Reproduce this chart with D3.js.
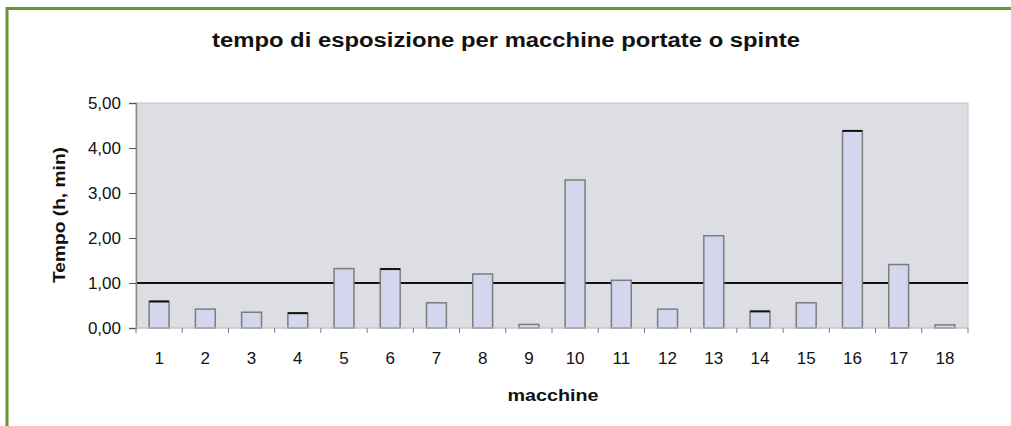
<!DOCTYPE html>
<html lang="it">
<head>
<meta charset="UTF-8">
<title>tempo di esposizione</title>
<script src="https://d3js.org/d3.v7.min.js"></script>
<style>
    body{ margin:0; background:#fff; }
    text{ font-family:"Liberation Sans", Arial, sans-serif; fill:#111; }
</style>
</head>
<body>
<svg id="chart" width="1011" height="426"></svg>
<script>
    // data
    let macchine = ["1","2","3","4","5","6","7","8","9","10","11","12","13","14","15","16","17","18"];
    let tempo = [0.59, 0.42, 0.35, 0.33, 1.32, 1.31, 0.56, 1.20, 0.08, 3.29, 1.06, 0.42, 2.05, 0.37, 0.56, 4.38, 1.41, 0.07];
    let yTicks = [0, 1, 2, 3, 4, 5];
    let soglia = 1.0;

    let svg = d3.select("#chart");

    // frame (green, top + left only)
    svg.append("path")
        .attr("d", "M7,426 V8.5 H1011")
        .attr("fill", "none")
        .attr("stroke", "#6b9433")
        .attr("stroke-width", 3);

    let pLeft = 136, pRight = 968, pTop = 103, pBottom = 328;

    let x = d3.scaleBand().domain(macchine).range([pLeft, pRight]).paddingInner(0.57).paddingOuter(0.285);
    let xb = d3.scaleBand().domain(macchine).range([pLeft, pRight]);
    let y = d3.scaleLinear().domain([0, 5]).range([pBottom, pTop]);

    // plot area
    svg.append("rect")
        .attr("x", pLeft).attr("y", pTop)
        .attr("width", pRight - pLeft).attr("height", pBottom - pTop)
        .attr("fill", "#dcdee3")
        .attr("stroke", "#c4c4c4")
        .attr("stroke-width", 1);

    // reference line at 1,00
    svg.append("line")
        .attr("x1", pLeft).attr("x2", pRight)
        .attr("y1", y(soglia)).attr("y2", y(soglia))
        .attr("stroke", "#111").attr("stroke-width", 2);

    // bars
    let darkTop = new Set([0, 3, 5, 13, 15]);
    let bars = svg.append("g");
    bars.selectAll("rect")
        .data(tempo)
        .join("rect")
        .attr("x", (d, i) => x(macchine[i]))
        .attr("y", d => y(d))
        .attr("width", x.bandwidth())
        .attr("height", d => y(0) - y(d))
        .attr("fill", "#d3d6ec")
        .attr("stroke", "#7d7d7d")
        .attr("stroke-width", 1.5);
    bars.selectAll("line")
        .data(tempo.map((d, i) => [d, i]).filter(p => darkTop.has(p[1])))
        .join("line")
        .attr("x1", p => x(macchine[p[1]]))
        .attr("x2", p => x(macchine[p[1]]) + x.bandwidth())
        .attr("y1", p => y(p[0])).attr("y2", p => y(p[0]))
        .attr("stroke", "#111").attr("stroke-width", 2);

    // y axis
    let yAxis = d3.axisLeft(y).tickValues(yTicks).tickSize(7).tickPadding(8)
        .tickFormat(d => d3.format(".2f")(d).replace(".", ","));
    let gy = svg.append("g").attr("transform", `translate(${pLeft},0)`).call(yAxis);
    gy.select(".domain").attr("stroke", "#8a8a8a").attr("stroke-width", 1.5);
    gy.selectAll(".tick line").attr("stroke", "#555");
    gy.selectAll("text").attr("font-size", 17).attr("fill", "#111")
        .style("font-family", "Liberation Sans, Arial, sans-serif");

    // x axis: ticks on band boundaries
    let gx = svg.append("g");
    gx.append("line")
        .attr("x1", pLeft).attr("x2", pRight)
        .attr("y1", pBottom).attr("y2", pBottom)
        .attr("stroke", "#c4c4c4");
    gx.selectAll("line.t")
        .data(macchine.concat(["end"]))
        .join("line")
        .attr("class", "t")
        .attr("x1", (d, i) => i < macchine.length ? xb(d) : pRight)
        .attr("x2", (d, i) => i < macchine.length ? xb(d) : pRight)
        .attr("y1", pBottom).attr("y2", pBottom + 5)
        .attr("stroke", "#777");
    gx.selectAll("text")
        .data(macchine)
        .join("text")
        .attr("x", d => xb(d) + xb.bandwidth() / 2)
        .attr("y", 364)
        .attr("text-anchor", "middle")
        .attr("font-size", 17)
        .text(d => d);

    // titles
    svg.append("text")
        .attr("x", 506).attr("y", 47)
        .attr("text-anchor", "middle")
        .attr("font-size", 20).attr("font-weight", "bold")
        .attr("textLength", 588).attr("lengthAdjust", "spacingAndGlyphs")
        .text("tempo di esposizione per macchine portate o spinte");

    svg.append("text")
        .attr("x", 553).attr("y", 401)
        .attr("text-anchor", "middle")
        .attr("font-size", 17).attr("font-weight", "bold")
        .attr("textLength", 91).attr("lengthAdjust", "spacingAndGlyphs")
        .text("macchine");

    svg.append("text")
        .attr("transform", "translate(65,215) rotate(-90)")
        .attr("text-anchor", "middle")
        .attr("font-size", 17).attr("font-weight", "bold")
        .attr("textLength", 136).attr("lengthAdjust", "spacingAndGlyphs")
        .text("Tempo (h, min)");
</script>
</body>
</html>
